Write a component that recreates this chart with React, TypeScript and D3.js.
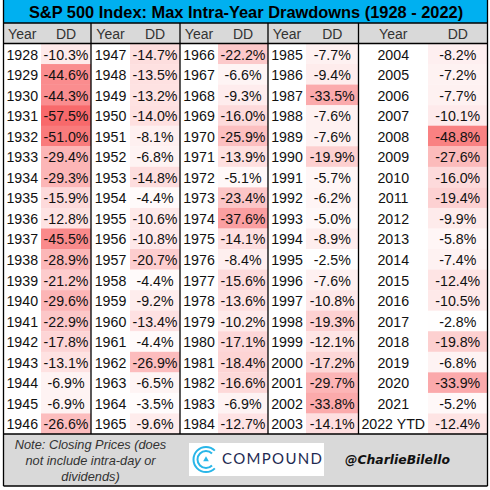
import React from "react";
import * as d3 from "d3";

const title = "S&P 500 Index: Max Intra-Year Drawdowns (1928 - 2022)";
const yearsA = ["1928","1929","1930","1931","1932","1933","1934","1935","1936","1937","1938","1939","1940","1941","1942","1943","1944","1945","1946"];
const yearsB = ["1947","1948","1949","1950","1951","1952","1953","1954","1955","1956","1957","1958","1959","1960","1961","1962","1963","1964","1965"];
const yearsC = ["1966","1967","1968","1969","1970","1971","1972","1973","1974","1975","1976","1977","1978","1979","1980","1981","1982","1983","1984"];
const yearsD = ["1985","1986","1987","1988","1989","1990","1991","1992","1993","1994","1995","1996","1997","1998","1999","2000","2001","2002","2003"];
const yearsE = ["2004","2005","2006","2007","2008","2009","2010","2011","2012","2013","2014","2015","2016","2017","2018","2019","2020","2021","2022 YTD"];

const ddA = [-10.3,-44.6,-44.3,-57.5,-51.0,-29.4,-29.3,-15.9,-12.8,-45.5,-28.9,-21.2,-29.6,-22.9,-17.8,-13.1,-6.9,-6.9,-26.6];
const ddB = [-14.7,-13.5,-13.2,-14.0,-8.1,-6.8,-14.8,-4.4,-10.6,-10.8,-20.7,-4.4,-9.2,-13.4,-4.4,-26.9,-6.5,-3.5,-9.6];
const ddC = [-22.2,-6.6,-9.3,-16.0,-25.9,-13.9,-5.1,-23.4,-37.6,-14.1,-8.4,-15.6,-13.6,-10.2,-17.1,-18.4,-16.6,-6.9,-12.7];
const ddD = [-7.7,-9.4,-33.5,-7.6,-7.6,-19.9,-5.7,-6.2,-5.0,-8.9,-2.5,-7.6,-10.8,-19.3,-12.1,-17.2,-29.7,-33.8,-14.1];
const ddE = [-8.2,-7.2,-7.7,-10.1,-48.8,-27.6,-16.0,-19.4,-9.9,-5.8,-7.4,-12.4,-10.5,-2.8,-19.8,-6.8,-33.9,-5.2,-12.4];

const noteLines = ["Note: Closing Prices (does", "not include intra-day or", "dividends)"];

const years = [yearsA, yearsB, yearsC, yearsD, yearsE];
const drawdowns = [ddA, ddB, ddC, ddD, ddE];

// column edges: left of Year, left of DD, right of DD
const colEdges = [
  [3.5, 41, 91],
  [91, 130, 180],
  [180, 218, 268],
  [268, 306, 358.5],
  [358.5, 428, 487.5],
];

const FONT = "'Liberation Sans', Arial, sans-serif";
const rowY = d3.scaleBand<number>().domain(d3.range(19)).range([43.5, 434]);
const color = d3
  .scaleLinear<string>()
  .domain([-2.5, -57.5])
  .range(["#ffffff", "#f8696b"]);

const logoArc = d3.arc();
const logoArcs = [
  { innerRadius: 11.5, outerRadius: 13.5 },
  { innerRadius: 7.5, outerRadius: 9.5 },
];

export default function App() {
  return (
    <svg
      width={490}
      height={490}
      style={{ position: "absolute", left: 0, top: 0, background: "#fff" }}
      fontFamily={FONT}
    >
      <rect x={3.5} y={0} width={484} height={23} fill="#00b0f0" />
      <rect x={3.5} y={23} width={484} height={20.5} fill="#d9d9d9" />
      <text x={246} y={18} textAnchor="middle" fontSize={16.4} fontWeight="bold" fill="#000">
        {title}
      </text>

      {colEdges.map((c, i) => (
        <g key={i}>
          <text x={(c[0] + c[1]) / 2} y={39} textAnchor="middle" fontSize={14} fill="#333">
            Year
          </text>
          <text x={(c[1] + c[2]) / 2} y={39} textAnchor="middle" fontSize={14} fill="#333">
            DD
          </text>
          {drawdowns[i].map((v, j) => (
            <g key={j}>
              <rect
                x={c[1]}
                y={rowY(j)}
                width={c[2] - c[1]}
                height={rowY.bandwidth() + 0.3}
                fill={color(v)}
              />
              <text
                x={(c[0] + c[1]) / 2}
                y={rowY(j)! + 16}
                textAnchor="middle"
                fontSize={14.2}
                fill="#111"
              >
                {years[i][j]}
              </text>
              <text
                x={(c[1] + c[2]) / 2}
                y={rowY(j)! + 16}
                textAnchor="middle"
                fontSize={14.2}
                fill="#111"
              >
                {v.toFixed(1)}%
              </text>
            </g>
          ))}
        </g>
      ))}

      <rect x={3.5} y={434} width={484} height={52} fill="#d9d9d9" />
      {noteLines.map((l, i) => (
        <text
          key={l}
          x={90.5}
          y={448.5 + i * 16.2}
          textAnchor="middle"
          fontSize={12.8}
          fontStyle="italic"
          fill="#333"
        >
          {l}
        </text>
      ))}

      <rect x={189} y={443} width={135} height={33} fill="#fff" />
      <g transform="translate(206,459.5)">
        {logoArcs.map((a, i) => (
          <path
            key={i}
            d={logoArc({ ...a, startAngle: Math.PI * 0.75, endAngle: Math.PI * 2.25 }) as string}
            fill="#29b6e8"
          />
        ))}
        <path d={d3.symbol(d3.symbolTriangle, 14)() as string} fill="#29b6e8" />
      </g>
      <text x={222} y={464} fontFamily="Lato, sans-serif" fontSize={15} fill="#1e2a52" textLength={100}>
        COMPOUND
      </text>
      <text
        x={345}
        y={463.5}
        fontFamily="'DejaVu Sans', sans-serif"
        fontSize={13}
        fontStyle="italic"
        fontWeight="bold"
        fill="#111"
        textLength={105}
        lengthAdjust="spacingAndGlyphs"
      >
        @CharlieBilello
      </text>

      {/* borders */}
      <g stroke="#000" fill="none" strokeWidth={1.3}>
        <line x1={3.5} x2={3.5} y1={0} y2={486} />
        <line x1={487.5} x2={487.5} y1={0} y2={486} />
        <line x1={3.5} x2={487.5} y1={486} y2={486} />
        <line x1={3.5} x2={487.5} y1={23} y2={23} />
        <line x1={3.5} x2={487.5} y1={43.5} y2={43.5} />
        <line x1={3.5} x2={487.5} y1={434} y2={434} />
        {colEdges.slice(0, 4).map((c) => (
          <line key={c[2]} x1={c[2]} x2={c[2]} y1={23} y2={434} />
        ))}
      </g>
    </svg>
  );
}
